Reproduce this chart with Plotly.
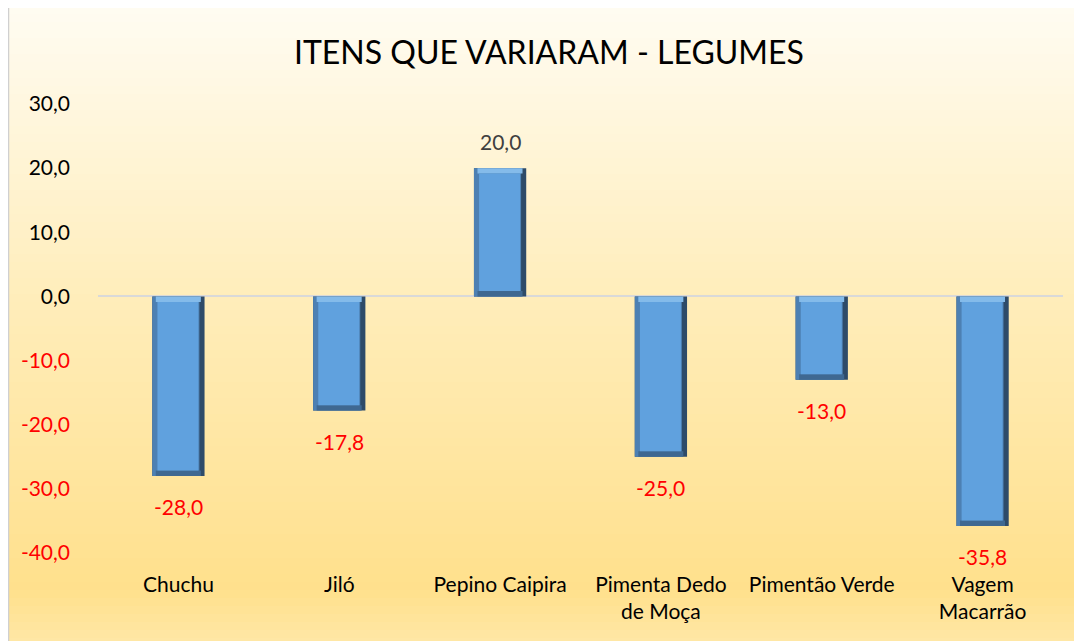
import plotly.graph_objects as go

categories = ["Chuchu", "Jiló", "Pepino Caipira", "Pimenta Dedo<br>de Moça", "Pimentão Verde", "Vagem<br>Macarrão"]
values = [-28.0, -17.8, 20.0, -25.0, -13.0, -35.8]
tick_vals = [30, 20, 10, 0, -10, -20, -30, -40]
tick_labels = ["30,0", "20,0", "10,0", "0,0", "-10,0", "-20,0", "-30,0", "-40,0"]
title_text = "ITENS QUE VARIARAM - LEGUMES"

W, H = 1082, 641
OFF = 8  # page body margin offset
# target plot area in screenshot pixels
PX0, PX1, PY0, PY1 = 98, 1063, 104, 553
L = PX0 - OFF
T = PY0 - OFF
R = W - (PX1 - OFF)
B = H - (PY1 - OFF)
PW, PH = PX1 - PX0, PY1 - PY0

def px_x(px):
    return (px - PX0) / PW

def px_y(py):
    return (PY1 - py) / PH

FONT = "Lato"
FS = 21

fig = go.Figure()

inset = 0.85
bw = 0.325
def fmt(v):
    return f"{v:.1f}".replace(".", ",")

# right dark edge (full bar)
fig.add_trace(go.Bar(x=categories, y=values, width=bw, offset=-bw/2,
                     marker=dict(color="#2E4B69", line=dict(width=0)), hoverinfo="skip"))
# left mid shade
fig.add_trace(go.Bar(x=categories, y=values, width=bw - 0.032, offset=-bw/2,
                     marker=dict(color="#4D80B3", line=dict(width=0)), hoverinfo="skip"))
# top light bevel
tops = [max(v, 0) for v in values]
fig.add_trace(go.Bar(x=categories, y=[inset] * len(values), base=[t - inset for t in tops],
                     width=bw - 0.045, offset=-bw/2 + 0.022,
                     marker=dict(color="#84BBEA", line=dict(width=0)), hoverinfo="skip"))
# bottom dark bevel
bots = [min(v, 0) for v in values]
fig.add_trace(go.Bar(x=categories, y=[inset] * len(values), base=bots,
                     width=bw - 0.045, offset=-bw/2 + 0.022,
                     marker=dict(color="#3F6891", line=dict(width=0)), hoverinfo="skip"))
# face
fig.add_trace(go.Bar(x=categories, y=[(abs(v) - 2 * inset) * (1 if v > 0 else -1) for v in values],
                     base=[inset if v > 0 else -inset for v in values],
                     width=bw - 0.07, offset=-bw/2 + 0.032,
                     marker=dict(color="#60A1DE", line=dict(width=0)), hoverinfo="skip"))

annotations = []
for c, v in zip(categories, values):
    annotations.append(dict(
        x=c, y=v, xref="x", yref="y", text=fmt(v), showarrow=False,
        yanchor="bottom" if v > 0 else "top", yshift=12 if v > 0 else -16,
        font=dict(family=FONT, size=FS, color="#404040" if v > 0 else "#FF0000")))
annotations.append(dict(x=px_x(549), y=px_y(51), xref="paper", yref="paper", text=title_text,
                        showarrow=False, yanchor="middle", xanchor="center",
                        font=dict(family=FONT, size=32, color="#000000")))

# gradient background bands
stops = [(6, (255, 252, 242)), (300, (255, 237, 186)), (590, (255, 224, 140)), (641, (255, 231, 166))]
def col_at(py):
    for (y0, c0), (y1, c1) in zip(stops[:-1], stops[1:]):
        if y0 <= py <= y1:
            f = (py - y0) / (y1 - y0)
            return tuple(round(a + (b - a) * f) for a, b in zip(c0, c1))
    return stops[-1][1]

shapes = []
step = 8
py = 6
while py < H:
    py2 = min(py + step, H)
    c = col_at((py + py2) / 2)
    shapes.append(dict(type="rect", xref="paper", yref="paper", layer="below",
                       x0=px_x(9), x1=px_x(W + 20), y0=px_y(py2 + 0.5), y1=px_y(py),
                       fillcolor=f"rgb{c}", line=dict(width=0)))
    py = py2
# chart border
shapes.append(dict(type="line", xref="paper", yref="paper", layer="below",
                   x0=px_x(8.5), x1=px_x(8.5), y0=px_y(H + 20), y1=px_y(5.5),
                   line=dict(color="#D0D0D0", width=1.5)))
shapes.append(dict(type="line", xref="paper", yref="paper", layer="below",
                   x0=px_x(8.5), x1=px_x(W + 20), y0=px_y(5.5), y1=px_y(5.5),
                   line=dict(color="#D0D0D0", width=1.5)))

tick_text = [f"<span style='color:#FF0000'>{t}</span>" if v < 0 else t for v, t in zip(tick_vals, tick_labels)]

fig.update_layout(
    width=W, height=H,
    margin=dict(l=L, r=R, t=T, b=B, pad=0),
    paper_bgcolor="white", plot_bgcolor="rgba(0,0,0,0)",
    barmode="overlay", showlegend=False,
    shapes=shapes, annotations=annotations,
    font=dict(family=FONT, size=FS, color="#000000"),
    xaxis=dict(showgrid=False, zeroline=False, showline=False, ticks="",
               tickfont=dict(family=FONT, size=FS, color="#000000"),
               ticklabelstandoff=17, fixedrange=True),
    yaxis=dict(range=[-40, 30], tickvals=tick_vals, ticktext=tick_text, showgrid=False,
               zeroline=True, zerolinecolor="#D9D9D9", zerolinewidth=2, showline=False,
               ticks="", tickfont=dict(family=FONT, size=FS, color="#000000"),
               ticklabelstandoff=27, fixedrange=True),
)

fig.write_html("out.html")
